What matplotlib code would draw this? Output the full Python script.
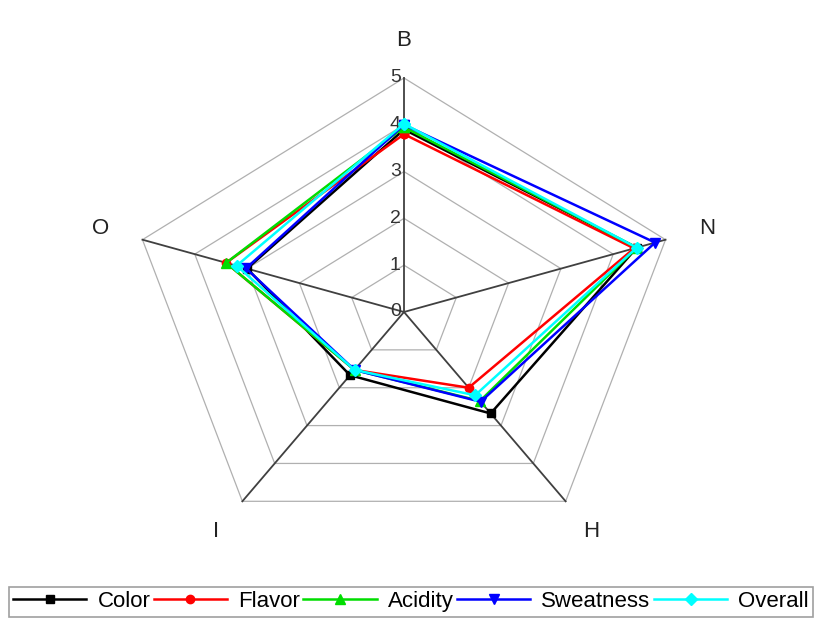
import numpy as np
import matplotlib.pyplot as plt

# Radar axes, clockwise from the top
axes_names = ["B", "N", "H", "I", "O"]

# Scores, one list per attribute
color = [3.9, 4.45, 2.68, 1.67, 3.0]
flavor = [3.8, 4.4, 2.0, 1.53, 3.4]
acidity = [3.95, 4.45, 2.35, 1.53, 3.4]
sweatness = [4.0, 4.8, 2.37, 1.53, 3.02]
overall = [4.02, 4.45, 2.2, 1.53, 3.2]

series_names = ["Color", "Flavor", "Acidity", "Sweatness", "Overall"]
series_vals = [color, flavor, acidity, sweatness, overall]
series_cols = ["black", "#ff0000", "#00dd00", "#0000ff", "#00ffff"]
series_mark = ["s", "o", "^", "v", "D"]
series_msize = [6, 6, 7, 7, 6]

ticks = [0, 1, 2, 3, 4, 5]

plt.rcParams["font.family"] = ["Liberation Sans", "DejaVu Sans"]

n = len(axes_names)
theta = np.arange(n) * 2 * np.pi / n


def to_xy(r):
    r = np.asarray(r, dtype=float)
    return r * np.sin(theta), r * np.cos(theta)


fig = plt.figure(figsize=(8.22, 6.21), dpi=100)
ax = fig.add_axes([0, 0, 1, 1])
ax.set_xlim(-404 / 55.0, 418 / 55.0)
ax.set_ylim(-309 / 46.8, 312 / 46.8)
ax.axis("off")

# pentagon grid
for t in ticks[1:]:
    gx, gy = to_xy([t] * n)
    ax.plot(np.append(gx, gx[0]), np.append(gy, gy[0]),
            color="#b0b0b0", lw=0.9, zorder=1)

# spokes
ox, oy = to_xy([5] * n)
for i in range(n):
    ax.plot([0, ox[i]], [0, oy[i]], color="#404040", lw=1.3, zorder=2)

# radial tick labels on the B axis
for t in ticks:
    ax.text(-0.06, t, str(t), ha="right", va="center",
            fontsize=14, color="#333333")

# axis labels
lx, ly = to_xy([5.8] * n)
for i in range(n):
    ax.text(lx[i], ly[i], axes_names[i], ha="center", va="center",
            fontsize=16, color="#222222")

# data
handles = []
for name, vals, c, m, ms in zip(series_names, series_vals, series_cols,
                                series_mark, series_msize):
    x, y = to_xy(vals)
    h, = ax.plot(np.append(x, x[0]), np.append(y, y[0]), color=c, lw=1.8,
                 marker=m, markersize=ms, zorder=3, label=name)
    handles.append(h)

leg = fig.legend(handles=handles, loc="lower center",
                 bbox_to_anchor=(0.5, 0.0), ncol=5, fontsize=16,
                 handlelength=3.3, handletextpad=0.5, columnspacing=0.15,
                 fancybox=False, edgecolor="#888888", borderpad=0.2,
                 borderaxespad=0.2, frameon=True)
leg.get_frame().set_linewidth(1.2)

fig.savefig("out.png", dpi=100)
